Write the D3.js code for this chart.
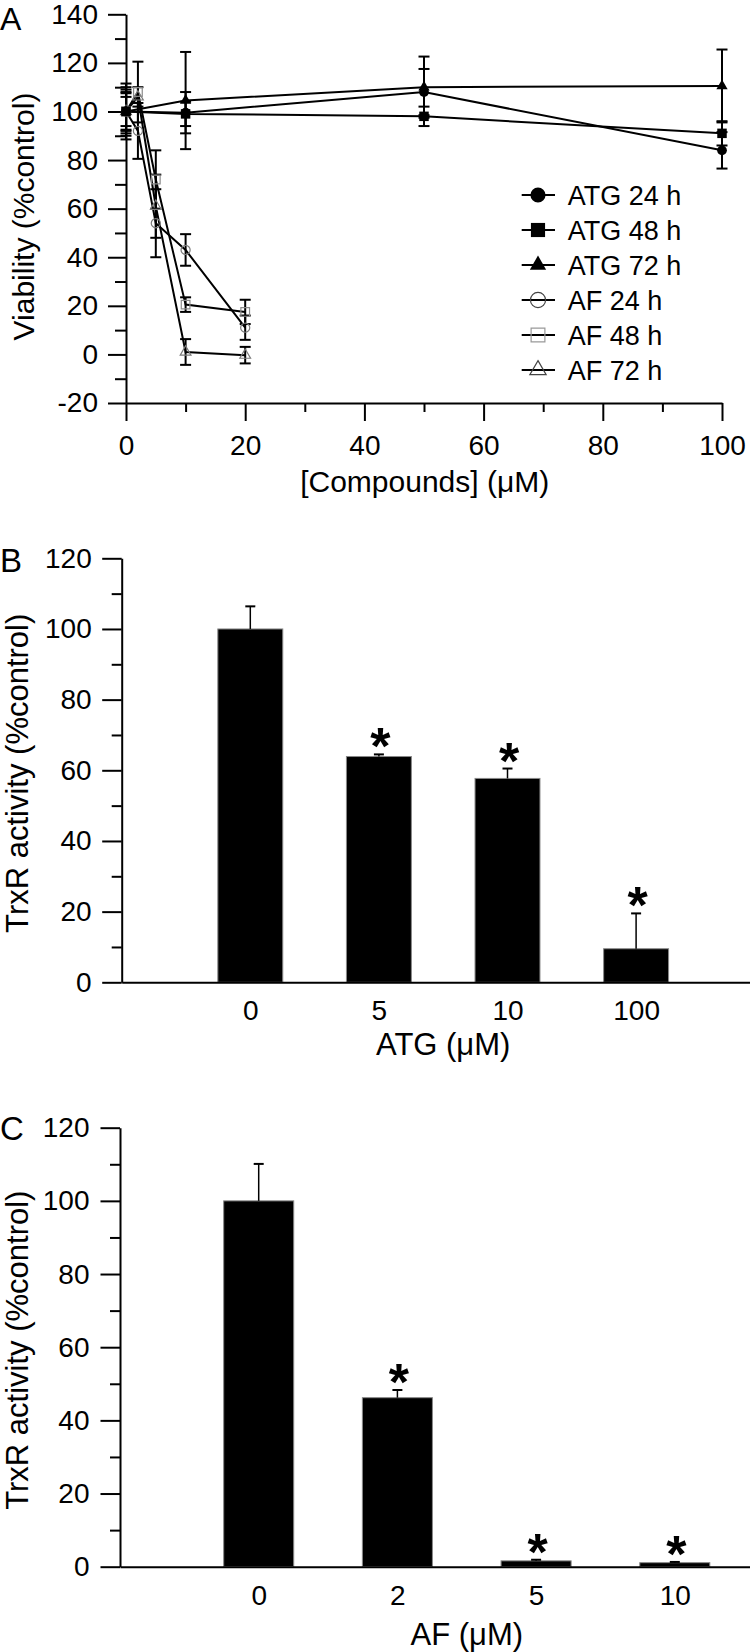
<!DOCTYPE html>
<html><head><meta charset="utf-8">
<script src="https://cdn.jsdelivr.net/npm/d3@7"></script>
<style>
body{margin:0;background:#fff}
svg{display:block}
text{font-family:"Liberation Sans",Arial,Helvetica,sans-serif;fill:#000}
</style></head><body>
<svg id="chart" width="750" height="1652"></svg>
<script>
// ---------- Panel A data ----------
const atgConc = [0, 10, 50, 100];
const afConc  = [0, 2, 5, 10, 20];
const atg24    = [100, 99.5, 108, 84];
const atg24Err = [6, 8.5, 9.5, 7.5];
const atg48    = [100, 99, 98, 91];
const atg48Err = [7.5, 5, 4, 5];
const atg72    = [100, 104.5, 110, 110.5];
const atg72Err = [9, 20, 12.6, 15];
const af24     = [100, 92, 54, 43, 11];
const af24Err  = [10, 11.5, 14, 6.5, 5];
const af48     = [100, 108, 72, 20.5, 17.5];
const af48Err  = [11.5, 12.5, 12, 3, 5];
const af72     = [100, 106, 61, 1, -0.3];
const af72Err  = [8, 4, 13, 5.3, 3.4];
const seriesNames = ["ATG 24 h","ATG 48 h","ATG 72 h","AF 24 h","AF 48 h","AF 72 h"];
const xTicksA = [0, 20, 40, 60, 80, 100];
const yTicksA = [-20, 0, 20, 40, 60, 80, 100, 120, 140];

// ---------- Panel B data ----------
const catB = ["0", "5", "10", "100"];
const valB = [100, 63.9, 57.7, 9.5];
const errB = [6.4, 0.6, 2.8, 10];
const sigB = [false, true, true, true];

// ---------- Panel C data ----------
const catC = ["0", "2", "5", "10"];
const valC = [100, 46.2, 1.6, 1.1];
const errC = [10.1, 2.1, 0.3, 0.2];
const sigC = [false, true, true, true];
const yTicksBar = [0, 20, 40, 60, 80, 100, 120];

const svg = d3.select("#chart");
const FONT_TICK = 28;
const fmt = d => String(d);   // plain hyphen-minus like the original

function styleAxis(g, w) {
  g.selectAll(".domain").attr("stroke", "#000").attr("stroke-width", w);
  g.selectAll(".tick line").attr("stroke", "#000").attr("stroke-width", w);
  g.selectAll(".tick text").attr("font-size", FONT_TICK).attr("fill", "#000")
    .attr("font-family", '"Liberation Sans",Arial,sans-serif');
}

// ================= Panel A =================
const xA = d3.scaleLinear().domain([0, 100]).range([126, 722]);
const yA = d3.scaleLinear().domain([-20, 140]).range([403, 14.3]);

const gA = svg.append("g");
// minor ticks
gA.append("g").attr("transform", `translate(${xA(0)},0)`)
  .call(d3.axisLeft(yA).tickValues(d3.range(-10, 140, 20)).tickSize(11).tickFormat(""))
  .call(g => { g.select(".domain").remove(); styleAxis(g, 2); });
gA.append("g").attr("transform", `translate(0,${yA(-20)})`)
  .call(d3.axisBottom(xA).tickValues(d3.range(10, 100, 20)).tickSize(9).tickFormat(""))
  .call(g => { g.select(".domain").remove(); styleAxis(g, 2); });
// major
gA.append("g").attr("transform", `translate(${xA(0)},0)`)
  .call(d3.axisLeft(yA).tickValues(yTicksA).tickFormat(fmt).tickSize(18).tickSizeOuter(0).tickPadding(10))
  .call(g => styleAxis(g, 2));
gA.append("g").attr("transform", `translate(0,${yA(-20)})`)
  .call(d3.axisBottom(xA).tickValues(xTicksA).tickFormat(fmt).tickSize(18).tickSizeOuter(0).tickPadding(14))
  .call(g => styleAxis(g, 2));

const seriesA = [
  {name: seriesNames[0], x: atgConc, y: atg24, e: atg24Err, sym: d3.symbolCircle,   fill: "#000", stroke: "none", size: 75},
  {name: seriesNames[1], x: atgConc, y: atg48, e: atg48Err, sym: d3.symbolSquare,   fill: "#000", stroke: "none", size: 90},
  {name: seriesNames[2], x: atgConc, y: atg72, e: atg72Err, sym: d3.symbolTriangle, fill: "#000", stroke: "none", size: 55},
  {name: seriesNames[3], x: afConc,  y: af24,  e: af24Err,  sym: d3.symbolCircle,   fill: "none", stroke: "#7a7a7a", size: 65},
  {name: seriesNames[4], x: afConc,  y: af48,  e: af48Err,  sym: d3.symbolSquare,   fill: "none", stroke: "#8a8a8a", size: 75},
  {name: seriesNames[5], x: afConc,  y: af72,  e: af72Err,  sym: d3.symbolTriangle, fill: "none", stroke: "#7a7a7a", size: 50}
];

const line = d3.line().x(d => xA(d[0])).y(d => yA(d[1]));
seriesA.forEach(s => {
  const pts = s.x.map((c, i) => [c, s.y[i], s.e[i]]);
  gA.append("path").attr("d", line(pts)).attr("fill", "none")
    .attr("stroke", "#000").attr("stroke-width", 2);
  const eb = gA.append("g");
  pts.forEach(p => {
    const cx = xA(p[0]), yt = yA(p[1] + p[2]), yb = yA(p[1] - p[2]);
    eb.append("line").attr("x1", cx).attr("x2", cx).attr("y1", yt).attr("y2", yb)
      .attr("stroke", "#000").attr("stroke-width", 2);
    [yt, yb].forEach(yy => eb.append("line").attr("x1", cx - 5.5).attr("x2", cx + 5.5)
      .attr("y1", yy).attr("y2", yy).attr("stroke", "#000").attr("stroke-width", 2));
  });
});
// markers: open AF first, filled ATG on top
seriesA.slice().reverse().forEach(s => {
  gA.append("g").selectAll("path").data(s.x.map((c, i) => [c, s.y[i]])).join("path")
    .attr("transform", d => `translate(${xA(d[0])},${yA(d[1])})`)
    .attr("d", d3.symbol().type(s.sym).size(s.size))
    .attr("fill", s.fill).attr("stroke", s.stroke).attr("stroke-width", 1.2);
});

// legend
const legSize = [180, 200, 115, 180, 190, 115];
const legStroke = ["none", "none", "none", "#444", "#999", "#444"];
const leg = gA.append("g");
seriesA.forEach((s, i) => {
  const yy = 195 + i * 35;
  leg.append("line").attr("x1", 521.7).attr("x2", 555).attr("y1", yy).attr("y2", yy)
    .attr("stroke", "#000").attr("stroke-width", 2);
  leg.append("path").attr("transform", `translate(538,${yy})`)
    .attr("d", d3.symbol().type(s.sym).size(legSize[i]))
    .attr("fill", s.fill === "none" ? "none" : "#000")
    .attr("stroke", legStroke[i]).attr("stroke-width", 1.2);
  leg.append("text").attr("x", 567.7).attr("y", yy).attr("dy", "0.36em")
    .attr("font-size", 27).text(s.name);
});

gA.append("text").attr("x", 424.7).attr("y", 491.7).attr("text-anchor", "middle")
  .attr("font-size", 30).text("[Compounds] (μM)");
gA.append("text").attr("transform", "translate(33.5,216.5) rotate(-90)")
  .attr("text-anchor", "middle").attr("font-size", 30).text("Viability (%control)");
gA.append("text").attr("x", 0).attr("y", 29.5).attr("font-size", 32).text("A");

// ================= Bar panels =================
function barPanel(opt) {
  const {cats, vals, errs, sig, x0, step, xEnd, y0, y120, label, labelY, xTitle, yTitleX, tickPad, xLabelBase, xTitleBase} = opt;
  const x = d3.scaleLinear().domain([0, (xEnd - x0) / step]).range([x0, xEnd]);
  const y = d3.scaleLinear().domain([0, 120]).range([y0, y120]);
  const g = svg.append("g");
  const bw = step * 0.505;

  // bars
  g.append("g").selectAll("rect").data(vals).join("rect")
    .attr("x", (d, i) => x(i + 1) - bw / 2).attr("width", bw)
    .attr("y", d => y(d)).attr("height", d => y(0) - y(d))
    .attr("fill", "#000").attr("stroke", "#888").attr("stroke-width", 1);
  // error bars (upper)
  const eg = g.append("g");
  vals.forEach((v, i) => {
    const cx = x(i + 1);
    eg.append("line").attr("x1", cx).attr("x2", cx).attr("y1", y(v)).attr("y2", y(v + errs[i]))
      .attr("stroke", "#000").attr("stroke-width", 1.5);
    eg.append("line").attr("x1", cx - 5).attr("x2", cx + 5).attr("y1", y(v + errs[i])).attr("y2", y(v + errs[i]))
      .attr("stroke", "#000").attr("stroke-width", 2);
    if (sig[i]) {
      eg.append("text").attr("x", cx + 1.5).attr("y", y(v + errs[i]) - 19 + 29)
        .attr("text-anchor", "middle").attr("font-size", 52).attr("font-weight", "bold").text("*");
    }
  });

  // y axis minor + major
  g.append("g").attr("transform", `translate(${x0},0)`)
    .call(d3.axisLeft(y).tickValues(d3.range(10, 120, 20)).tickSize(10).tickFormat(""))
    .call(a => { a.select(".domain").remove(); styleAxis(a, 2); });
  g.append("g").attr("transform", `translate(${x0},0)`)
    .call(d3.axisLeft(y).tickValues(yTicksBar).tickFormat(fmt).tickSize(19.5).tickSizeOuter(0).tickPadding(tickPad))
    .call(a => styleAxis(a, 2));
  // x axis
  g.append("g").attr("transform", `translate(0,${y0})`)
    .call(d3.axisBottom(x).tickValues([1, 2, 3, 4]).tickFormat((d) => cats[d - 1])
      .tickSize(0).tickSizeOuter(0).tickPadding(xLabelBase - 20))
    .call(a => styleAxis(a, 2));

  g.append("text").attr("x", x(2.5)).attr("y", xTitleBase).attr("text-anchor", "middle")
    .attr("font-size", 31).text(xTitle);
  g.append("text").attr("transform", `translate(${yTitleX},${(y0 + y120) / 2 + 3}) rotate(-90)`)
    .attr("text-anchor", "middle").attr("font-size", 31).text("TrxR activity (%control)");
  g.append("text").attr("x", 0).attr("y", labelY).attr("font-size", 33).text(label);
}

barPanel({cats: catB, vals: valB, errs: errB, sig: sigB, x0: 121.7, step: 128.6, xEnd: 750,
  y0: 982.3, y120: 558.3, label: "B", labelY: 571.7, xTitle: "ATG (μM)", yTitleX: 28.3,
  tickPad: 10.5, xLabelBase: 38, xTitleBase: 1055});
barPanel({cats: catC, vals: valC, errs: errC, sig: sigC, x0: 120, step: 138.7, xEnd: 750,
  y0: 1566.7, y120: 1127.7, label: "C", labelY: 1140, xTitle: "AF (μM)", yTitleX: 28.3,
  tickPad: 11, xLabelBase: 38, xTitleBase: 1645});
</script>
</body></html>
